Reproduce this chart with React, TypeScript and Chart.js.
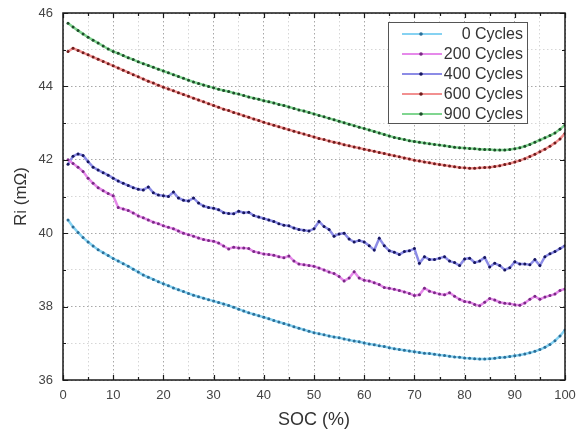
import { useEffect, useRef } from 'react';
import { Chart, registerables } from 'chart.js';

Chart.register(...registerables);

const socValues = [
  1, 2, 3, 4, 5, 6, 7, 8, 9, 10, 11, 12, 13, 14, 15, 16, 17, 18, 19, 20,
  21, 22, 23, 24, 25, 26, 27, 28, 29, 30, 31, 32, 33, 34, 35, 36, 37, 38, 39, 40,
  41, 42, 43, 44, 45, 46, 47, 48, 49, 50, 51, 52, 53, 54, 55, 56, 57, 58, 59, 60,
  61, 62, 63, 64, 65, 66, 67, 68, 69, 70, 71, 72, 73, 74, 75, 76, 77, 78, 79, 80,
  81, 82, 83, 84, 85, 86, 87, 88, 89, 90, 91, 92, 93, 94, 95, 96, 97, 98, 99, 100,
];

const cycles0 = [
  40.36, 40.17, 40.02, 39.88, 39.76, 39.65, 39.55, 39.47, 39.39, 39.31,
  39.24, 39.17, 39.10, 39.02, 38.94, 38.86, 38.80, 38.74, 38.68, 38.62,
  38.57, 38.51, 38.46, 38.41, 38.36, 38.31, 38.27, 38.23, 38.19, 38.15,
  38.11, 38.07, 38.03, 37.98, 37.93, 37.88, 37.83, 37.79, 37.75, 37.71,
  37.67, 37.62, 37.58, 37.54, 37.50, 37.45, 37.41, 37.37, 37.33, 37.29,
  37.26, 37.23, 37.20, 37.17, 37.15, 37.12, 37.09, 37.06, 37.04, 37.01,
  36.98, 36.96, 36.93, 36.91, 36.88, 36.85, 36.83, 36.81, 36.79, 36.77,
  36.75, 36.73, 36.72, 36.70, 36.68, 36.67, 36.65, 36.63, 36.62, 36.60,
  36.59, 36.58, 36.57, 36.57, 36.58, 36.59, 36.61, 36.62, 36.64, 36.66,
  36.68, 36.71, 36.74, 36.78, 36.83, 36.89, 36.97, 37.07, 37.20, 37.36,
];

const cycles200 = [
  42.00, 41.90, 41.80, 41.68, 41.50, 41.36, 41.24, 41.16, 41.08, 41.02,
  40.70, 40.66, 40.62, 40.55, 40.47, 40.42, 40.36, 40.30, 40.26, 40.20,
  40.16, 40.12, 40.06, 40.00, 39.96, 39.92, 39.87, 39.83, 39.80, 39.78,
  39.73, 39.65, 39.57, 39.62, 39.60, 39.60, 39.58, 39.50, 39.47, 39.43,
  39.42, 39.40, 39.36, 39.33, 39.38, 39.24, 39.16, 39.14, 39.12, 39.10,
  39.05, 39.00, 38.94, 38.90, 38.82, 38.70, 38.78, 38.95, 38.78, 38.72,
  38.70, 38.65, 38.60, 38.52, 38.50, 38.47, 38.44, 38.40, 38.36, 38.30,
  38.32, 38.50, 38.42, 38.38, 38.34, 38.32, 38.38, 38.28, 38.20, 38.14,
  38.12, 38.06, 38.02, 38.12, 38.22, 38.18, 38.12, 38.09, 38.08, 38.05,
  38.04, 38.10, 38.20, 38.28, 38.20, 38.26, 38.30, 38.34, 38.44, 38.48,
];

const cycles400 = [
  41.88, 42.10, 42.16, 42.12, 41.95, 41.80, 41.72, 41.65, 41.58, 41.50,
  41.42, 41.36, 41.30, 41.24, 41.20, 41.18, 41.26, 41.10, 41.04, 41.02,
  41.00, 41.12, 40.96, 40.90, 40.88, 40.96, 40.82, 40.74, 40.70, 40.68,
  40.64, 40.56, 40.54, 40.53, 40.60, 40.56, 40.57, 40.48, 40.44, 40.40,
  40.36, 40.32, 40.26, 40.22, 40.20, 40.14, 40.10, 40.08, 40.06, 40.12,
  40.32, 40.18, 40.10, 39.92, 39.98, 40.00, 39.84, 39.76, 39.80, 39.76,
  39.66, 39.54, 39.86, 39.66, 39.52, 39.48, 39.42, 39.50, 39.52, 39.58,
  39.18, 39.36, 39.28, 39.28, 39.32, 39.36, 39.24, 39.20, 39.12, 39.30,
  39.32, 39.20, 39.24, 39.34, 39.08, 39.18, 39.12, 39.00, 39.06, 39.22,
  39.16, 39.16, 39.14, 39.28, 39.12, 39.36, 39.44, 39.50, 39.58, 39.66,
];

const cycles600 = [
  44.95, 45.04, 44.98, 44.92, 44.86, 44.80, 44.74, 44.68, 44.62, 44.56,
  44.50, 44.44, 44.38, 44.32, 44.26, 44.20, 44.14, 44.09, 44.03, 43.98,
  43.93, 43.88, 43.83, 43.78, 43.73, 43.68, 43.63, 43.58, 43.53, 43.48,
  43.43, 43.38, 43.34, 43.29, 43.25, 43.20, 43.16, 43.11, 43.07, 43.02,
  42.98, 42.94, 42.90, 42.86, 42.82, 42.78, 42.74, 42.70, 42.66, 42.62,
  42.58, 42.55, 42.51, 42.48, 42.45, 42.41, 42.38, 42.35, 42.32, 42.29,
  42.26, 42.23, 42.20, 42.17, 42.14, 42.11, 42.08, 42.05, 42.02, 41.99,
  41.97, 41.94, 41.92, 41.89, 41.87, 41.85, 41.83, 41.81, 41.79, 41.78,
  41.77, 41.77, 41.78, 41.79, 41.80, 41.82, 41.84, 41.87, 41.90, 41.94,
  41.98, 42.03, 42.09, 42.15, 42.22, 42.29, 42.37, 42.46, 42.57, 42.72,
];

const cycles900 = [
  45.72, 45.62, 45.52, 45.43, 45.34, 45.26, 45.18, 45.10, 45.02, 44.95,
  44.90, 44.84, 44.78, 44.73, 44.67, 44.62, 44.57, 44.52, 44.47, 44.42,
  44.37, 44.32, 44.27, 44.22, 44.17, 44.12, 44.08, 44.04, 44.00, 43.96,
  43.92, 43.89, 43.86, 43.82, 43.79, 43.75, 43.71, 43.68, 43.65, 43.61,
  43.58, 43.55, 43.51, 43.48, 43.44, 43.40, 43.36, 43.33, 43.29, 43.25,
  43.21, 43.17, 43.13, 43.09, 43.05, 43.01, 42.97, 42.93, 42.89, 42.85,
  42.81, 42.77, 42.73, 42.69, 42.65, 42.61, 42.58, 42.55, 42.52, 42.50,
  42.48, 42.46, 42.44, 42.42, 42.40, 42.38, 42.36, 42.34, 42.33, 42.32,
  42.31, 42.30, 42.29, 42.28, 42.28, 42.27, 42.27, 42.27, 42.28, 42.30,
  42.33, 42.37, 42.42, 42.48, 42.54, 42.60, 42.66, 42.73, 42.83, 42.95,
];

const seriesLabels = ['0 Cycles', '200 Cycles', '400 Cycles', '600 Cycles', '900 Cycles'];
const seriesValues = [cycles0, cycles200, cycles400, cycles600, cycles900];
const lineColors = ['#86d2f2', '#e689ea', '#8c8ce6', '#f29090', '#80d690'];
const pointColors = ['#2c6f98', '#7a2a86', '#16165e', '#6e1c1c', '#1e4c2a'];

const xTicksMajor = [0, 10, 20, 30, 40, 50, 60, 70, 80, 90, 100];
const yTicksMajor = [36, 38, 40, 42, 44, 46];

const FONT = '"Liberation Sans", Arial, sans-serif';

const framePlugin = {
  id: 'frameTicks',
  afterDatasetsDraw(chart: any) {
    const { ctx, chartArea: a, scales } = chart;
    const x = scales.x;
    const y = scales.y;
    ctx.save();
    ctx.strokeStyle = '#1a1a1a';
    ctx.lineWidth = 1.2;
    x.ticks.forEach((t: any) => {
      const px = Math.round(x.getPixelForValue(t.value)) + 0.5;
      const len = xTicksMajor.includes(t.value) ? 5 : 3;
      ctx.beginPath();
      ctx.moveTo(px, a.bottom);
      ctx.lineTo(px, a.bottom - len);
      ctx.moveTo(px, a.top);
      ctx.lineTo(px, a.top + len);
      ctx.stroke();
    });
    y.ticks.forEach((t: any) => {
      const py = Math.round(y.getPixelForValue(t.value)) + 0.5;
      const len = yTicksMajor.includes(t.value) ? 5 : 3;
      ctx.beginPath();
      ctx.moveTo(a.left, py);
      ctx.lineTo(a.left + len, py);
      ctx.moveTo(a.right, py);
      ctx.lineTo(a.right - len, py);
      ctx.stroke();
    });
    ctx.lineWidth = 1.5;
    ctx.strokeRect(a.left, a.top, a.right - a.left, a.bottom - a.top);
    ctx.restore();
  },
};

const legendPlugin = {
  id: 'insideLegend',
  afterDraw(chart: any) {
    const { ctx } = chart;
    const boxL = 388;
    const boxT = 22;
    const boxW = 139;
    const boxH = 101;
    ctx.save();
    ctx.fillStyle = '#ffffff';
    ctx.fillRect(boxL, boxT, boxW, boxH);
    ctx.strokeStyle = '#555555';
    ctx.lineWidth = 1;
    ctx.strokeRect(boxL + 0.5, boxT + 0.5, boxW, boxH);
    ctx.font = '16px ' + FONT;
    ctx.textAlign = 'right';
    ctx.textBaseline = 'middle';
    chart.data.datasets.forEach((ds: any, i: number) => {
      const cy = boxT + 12 + i * 20;
      ctx.strokeStyle = ds.borderColor;
      ctx.lineWidth = 2;
      ctx.beginPath();
      ctx.moveTo(402, cy);
      ctx.lineTo(442, cy);
      ctx.stroke();
      ctx.fillStyle = ds.pointBackgroundColor;
      ctx.beginPath();
      ctx.arc(421, cy, 1.8, 0, Math.PI * 2);
      ctx.fill();
      ctx.fillStyle = '#333333';
      ctx.fillText(ds.label, 523, cy + 1);
    });
    ctx.restore();
  },
};

export default function App() {
  const canvasRef = useRef<HTMLCanvasElement | null>(null);

  useEffect(() => {
    if (!canvasRef.current) return;
    Chart.defaults.font.family = FONT;
    const datasets = seriesLabels.map((label, i) => ({
      label,
      data: socValues.map((s, j) => ({ x: s, y: seriesValues[i][j] })),
      borderColor: lineColors[i],
      borderWidth: 2.5,
      pointRadius: 1.5,
      pointBackgroundColor: pointColors[i],
      pointBorderColor: pointColors[i],
      pointBorderWidth: 0,
      tension: 0,
      fill: false,
    }));

    const chart = new Chart(canvasRef.current, {
      type: 'line',
      data: { datasets },
      plugins: [framePlugin, legendPlugin],
      options: {
        animation: false,
        responsive: false,
        devicePixelRatio: 1,
        layout: { padding: { top: 13, right: 13, left: 0, bottom: 0 } },
        plugins: {
          legend: { display: false },
          tooltip: { enabled: false },
        },
        scales: {
          x: {
            type: 'linear',
            min: 0,
            max: 100,
            afterFit: (s: any) => {
              s.height = 53;
              s.paddingLeft = 0;
              s.paddingRight = 0;
            },
            ticks: {
              stepSize: 5,
              autoSkip: false,
              maxRotation: 0,
              padding: 8,
              color: '#444444',
              font: { size: 13, family: FONT },
              callback: (v: any) => (xTicksMajor.includes(Number(v)) ? String(v) : ''),
            },
            grid: {
              drawTicks: false,
              lineWidth: 1,
              color: (c: any) =>
                c.tick && xTicksMajor.includes(c.tick.value) ? '#a8a8a8' : '#d6d6d6',
            },
            border: { display: false, dash: [1.5, 2.5] },
            title: {
              display: true,
              text: 'SOC (%)',
              color: '#333333',
              font: { size: 18, family: FONT },
              padding: { top: 0, bottom: 2 },
            },
          },
          y: {
            type: 'linear',
            min: 36,
            max: 46,
            afterFit: (s: any) => {
              s.width = 63;
              s.paddingTop = 0;
              s.paddingBottom = 0;
            },
            ticks: {
              stepSize: 1,
              autoSkip: false,
              padding: 10,
              color: '#444444',
              font: { size: 13, family: FONT },
              callback: (v: any) => (yTicksMajor.includes(Number(v)) ? String(v) : ''),
            },
            grid: {
              drawTicks: false,
              lineWidth: 1,
              color: (c: any) =>
                c.tick && yTicksMajor.includes(c.tick.value) ? '#a8a8a8' : '#d6d6d6',
            },
            border: { display: false, dash: [1.5, 2.5] },
            title: {
              display: true,
              text: 'Ri (mΩ)',
              color: '#333333',
              font: { size: 17, family: FONT },
              padding: { top: 11, bottom: 0 },
            },
          },
        },
      },
    });
    return () => chart.destroy();
  }, []);

  return (
    <div style={{ position: 'absolute', left: 0, top: 0, width: 578, height: 433, background: '#ffffff' }}>
      <canvas ref={canvasRef} width={578} height={433} style={{ display: 'block' }} />
    </div>
  );
}
